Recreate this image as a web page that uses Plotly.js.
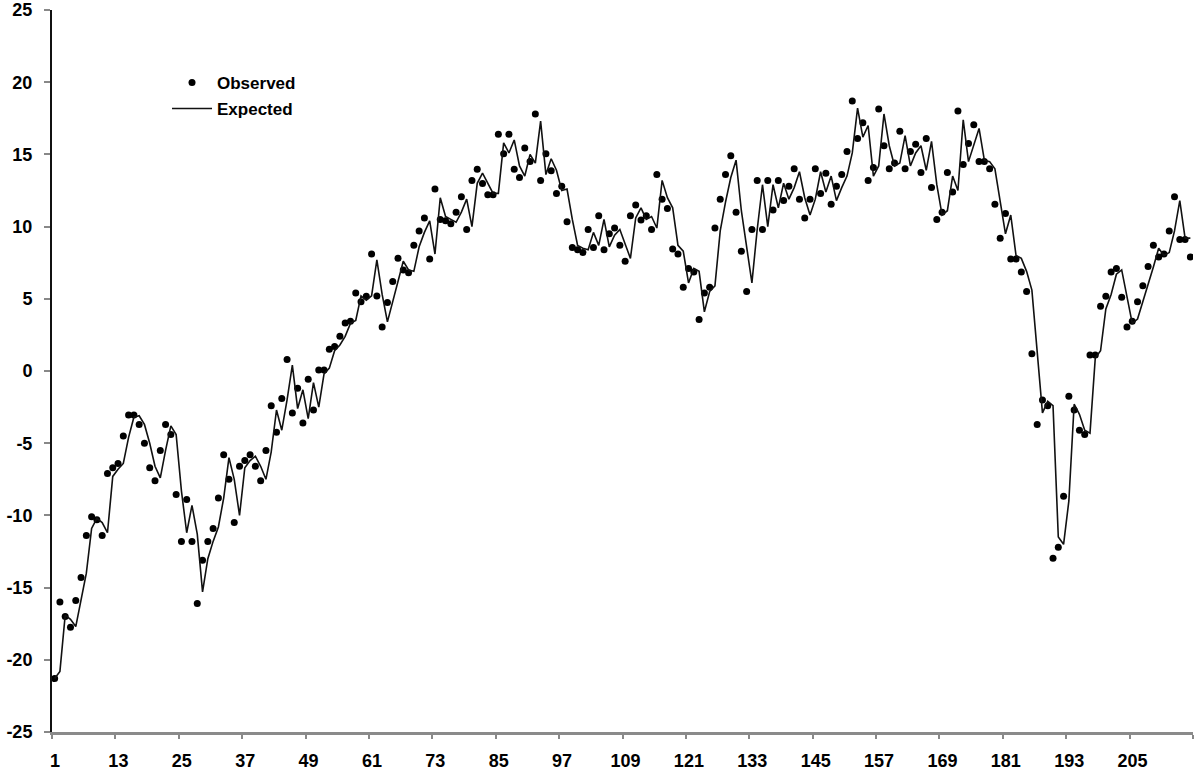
<!DOCTYPE html>
<html>
<head>
<meta charset="utf-8">
<script src="https://cdn.plot.ly/plotly-3.0.1.min.js"></script>
<style>html,body{margin:0;padding:0;background:#fff;}#chart{width:1200px;height:778px;}</style>
</head>
<body>
<div id="chart"></div>
<script>
// Observed values (one per period, periods 1..216)
const observed = [
  -21.3, -16.0, -17.0, -17.75, -15.9, -14.3, -11.4, -10.1, -10.3, -11.4,
  -7.1, -6.7, -6.4, -4.5, -3.05, -3.05, -3.7, -5.0, -6.7, -7.6,
  -5.5, -3.7, -4.4, -8.55, -11.8, -8.9, -11.8, -16.1, -13.1, -11.8,
  -10.9, -8.8, -5.8, -7.5, -10.5, -6.6, -6.2, -5.8, -6.6, -7.6,
  -5.5, -2.4, -4.25, -1.9, 0.8, -2.9, -1.2, -3.6, -0.57, -2.7,
  0.07, 0.07, 1.5, 1.7, 2.4, 3.33, 3.45, 5.4, 4.8, 5.17,
  8.1, 5.2, 3.05, 4.75, 6.2, 7.8, 7.0, 6.8, 8.7, 9.7,
  10.6, 7.75, 12.6, 10.5, 10.4, 10.2, 11.0, 12.07, 9.8, 13.2,
  13.97, 12.99, 12.2, 12.2, 16.4, 15.05, 16.4, 13.97, 13.4, 15.45,
  14.5, 17.8, 13.2, 15.05, 13.86, 12.3, 12.8, 10.34, 8.55, 8.4,
  8.2, 9.8, 8.55, 10.76, 8.4, 9.5, 9.9, 8.7, 7.6, 10.76,
  11.5, 10.45, 10.76, 9.8, 13.6, 11.9, 11.25, 8.45, 8.1, 5.8,
  7.1, 6.85, 3.56, 5.4, 5.8, 9.9, 11.9, 13.6, 14.9, 11.0,
  8.3, 5.5, 9.8, 13.2, 9.8, 13.2, 11.15, 13.2, 11.8, 12.8,
  14.0, 11.9, 10.6, 11.9, 14.0, 12.3, 13.7, 11.55, 12.8, 13.6,
  15.2, 18.7, 16.1, 17.2, 13.2, 14.1, 18.15, 15.6, 14.0, 14.4,
  16.6, 14.0, 15.2, 15.7, 13.75, 16.1, 12.7, 10.5, 10.99, 13.75,
  12.4, 18.0, 14.3, 15.75, 17.05, 14.5, 14.5, 14.0, 11.55, 9.2,
  10.9, 7.75, 7.75, 6.85, 5.5, 1.2, -3.7, -2.0, -2.4, -12.97,
  -12.2, -8.67, -1.75, -2.7, -4.1, -4.4, 1.1, 1.1, 4.48, 5.17,
  6.85, 7.1, 5.1, 3.05, 3.45, 4.8, 5.9, 7.24, 8.7, 7.9,
  8.1, 9.7, 12.07, 9.1, 9.1, 7.9
];

// Expected values
const expected = [
  -21.3, -20.8, -16.9, -17.2, -17.7, -15.8, -14.0, -10.9, -10.2, -10.5,
  -11.2, -7.3, -6.8, -6.4, -4.6, -3.2, -3.1, -3.7, -5.0, -6.6,
  -7.4, -5.5, -3.8, -4.4, -8.3, -11.2, -9.3, -11.3, -15.3, -13.0,
  -11.8, -10.8, -8.8, -6.0, -7.5, -10.0, -6.7, -6.2, -5.9, -6.6,
  -7.5, -5.6, -2.7, -4.1, -2.0, 0.4, -2.6, -1.3, -3.3, -0.8,
  -2.5, -0.2, 0.2, 1.4, 1.8, 2.4, 3.3, 3.5, 5.2, 4.9,
  5.2, 7.7, 5.3, 3.4, 4.8, 6.2, 7.6, 7.0, 6.9, 8.6,
  9.6, 10.4, 8.1, 12.0, 10.7, 10.5, 10.3, 11.0, 11.9, 10.0,
  13.0, 13.7, 13.0, 12.3, 12.3, 15.8, 15.1, 16.0, 14.2, 13.5,
  15.0, 14.4, 17.3, 13.6, 14.7, 13.9, 12.5, 12.6, 10.5, 8.7,
  8.5, 8.4, 9.6, 8.7, 10.5, 8.6, 9.4, 9.8, 8.8, 7.8,
  10.6, 11.3, 10.5, 10.7, 9.9, 13.2, 12.0, 11.3, 8.7, 8.3,
  6.1, 7.1, 6.9, 4.1, 5.5, 5.9, 9.7, 11.7, 13.4, 14.6,
  11.1, 8.5, 6.1, 9.8, 12.9, 10.0, 12.9, 11.3, 13.0, 11.9,
  12.7, 13.8, 12.0, 10.8, 11.9, 13.8, 12.4, 13.5, 11.8, 12.7,
  13.5, 15.1, 18.2, 16.2, 17.0, 13.5, 14.2, 17.8, 15.6, 14.2,
  14.4, 16.3, 14.2, 15.1, 15.6, 13.9, 15.9, 12.9, 10.8, 11.1,
  13.5, 12.5, 17.4, 14.5, 15.6, 16.8, 14.6, 14.5, 14.0, 11.7,
  9.5, 10.8, 8.0, 7.8, 6.9, 5.6, 1.6, -2.9, -2.1, -2.4,
  -11.5, -12.0, -9.0, -2.3, -3.0, -4.1, -4.3, 0.9, 1.4, 4.3,
  5.3, 6.7, 7.0, 5.2, 3.3, 3.6, 4.8, 5.9, 7.2, 8.5,
  8.0, 8.2, 9.7, 11.8, 9.2, 9.2
];

const periods = observed.map((_, i) => i + 1);
// x tick labels (every 12th period); the final tick at the axis end has no label
const xTickLabels = ["1", "13", "25", "37", "49", "61", "73", "85", "97", "109", "121", "133", "145", "157", "169", "181", "193", "205", ""];
const yTickVals = [-25, -20, -15, -10, -5, 0, 5, 10, 15, 20, 25];
const seriesNames = ["Observed", "Expected"];

// Excel-style category axis: tick marks sit on category boundaries
const xTickPos = xTickLabels.map((_, i) => 0.5 + 12 * i);

const font = "Liberation Sans, Arial, sans-serif";

const traces = [
  {
    x: periods, y: observed, name: seriesNames[0], type: "scatter", mode: "markers",
    marker: {color: "#000", size: 7, symbol: "circle"},
    legendgroup: "a", hoverinfo: "x+y"
  },
  {
    x: periods, y: expected, name: seriesNames[1], type: "scatter", mode: "lines",
    line: {color: "#111", width: 1.6},
    legendgroup: "b", hoverinfo: "x+y"
  }
];

const layout = {
  width: 1200, height: 778,
  margin: {l: 52, r: 7, t: 10, b: 46},
  paper_bgcolor: "#fff", plot_bgcolor: "#fff",
  font: {family: font, size: 18, color: "#000"},
  showlegend: true,
  legend: {
    x: 0.1008, y: 0.924, xanchor: "left", yanchor: "top",
    bgcolor: "rgba(0,0,0,0)", borderwidth: 0,
    font: {family: font, size: 17, color: "#000", weight: "bold"},
    traceorder: "grouped", tracegroupgap: 1, itemwidth: 40
  },
  xaxis: {
    range: [0.5, 216.5],
    tickmode: "array", tickvals: xTickPos, ticktext: xTickLabels,
    ticks: "outside", ticklen: 4, tickwidth: 2, tickcolor: "#888",
    ticklabelshift: 3, ticklabelstandoff: 6,
    showline: true, linecolor: "#8a8a8a", linewidth: 3,
    showgrid: false, zeroline: false,
    tickfont: {family: font, size: 18, color: "#000", weight: "bold"}
  },
  yaxis: {
    range: [-25, 25],
    tickmode: "array", tickvals: yTickVals, ticktext: yTickVals.map(String),
    ticks: "outside", ticklen: 6, tickwidth: 2, tickcolor: "#888",
    ticklabelstandoff: 8,
    showline: true, linecolor: "#111", linewidth: 2,
    showgrid: false, zeroline: false,
    tickfont: {family: font, size: 18, color: "#000", weight: "bold"}
  }
};

Plotly.newPlot("chart", traces, layout, {displayModeBar: false, staticPlot: true});
</script>
</body>
</html>
